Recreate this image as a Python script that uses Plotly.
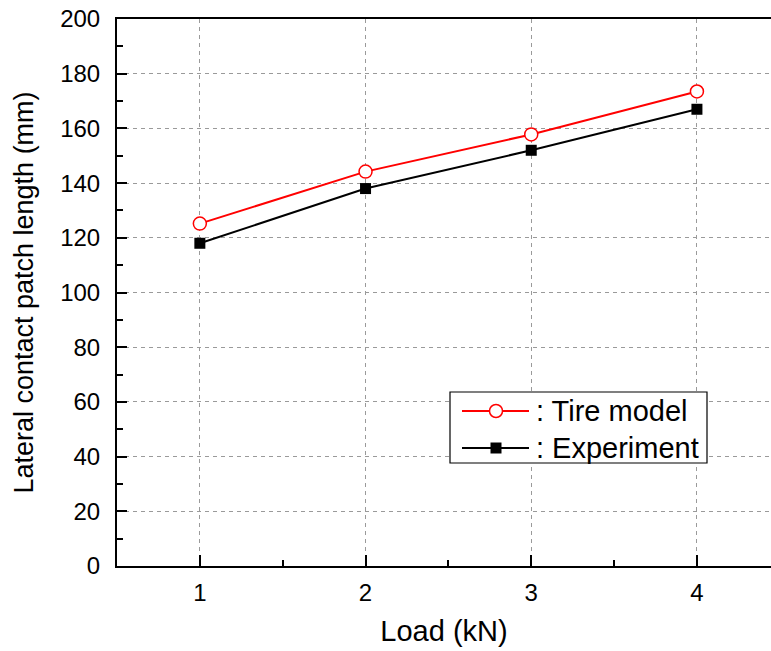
import plotly.graph_objects as go

# Load cases (kN) and lateral contact patch length (mm)
load_kn = [1, 2, 3, 4]
tire_model_mm = [125.2, 144.2, 157.8, 173.5]
experiment_mm = [118.0, 138.0, 152.0, 167.0]

series_names = [": Tire model", ": Experiment"]

FONT = "Liberation Sans, Arial, sans-serif"

W, H = 771, 651
L, R, T, B = 117, 0, 19, 85
plot_w = W - L - R
plot_h = H - T - B


def px_x(px):
    return (px - L) / plot_w


def px_y(py):
    return (H - B - py) / plot_h


fig = go.Figure()

fig.add_trace(go.Scatter(
    x=load_kn, y=experiment_mm, mode="lines+markers", name=series_names[1],
    line=dict(color="black", width=2),
    marker=dict(symbol="square", size=11, color="black"),
    showlegend=False,
))
fig.add_trace(go.Scatter(
    x=load_kn, y=tire_model_mm, mode="lines+markers", name=series_names[0],
    line=dict(color="#ff0000", width=2),
    marker=dict(symbol="circle", size=13, color="white",
                line=dict(color="#ff0000", width=1.5)),
    showlegend=False,
))

axis_common = dict(
    showline=True, linecolor="black", linewidth=2,
    ticks="inside", tickcolor="black", tickwidth=2,
    showgrid=True, gridcolor="#9a9a9a", gridwidth=1, griddash="4px,4px",
    zeroline=False,
    tickfont=dict(family=FONT, size=24, color="black"),
)

fig.update_xaxes(
    **axis_common,
    range=[0.5, 4.447], tick0=1, dtick=1, ticklen=11,
    mirror=True,
    minor=dict(ticks="inside", dtick=0.5, tick0=0.5, ticklen=6,
               tickcolor="black", tickwidth=2, showgrid=False),
    ticklabelstandoff=4,
    title=dict(text="Load (kN)", font=dict(family=FONT, size=29, color="black"),
               standoff=16),
)
fig.update_yaxes(
    **axis_common,
    range=[0, 200], tick0=0, dtick=20, ticklen=10,
    mirror=False,
    minor=dict(ticks="inside", dtick=10, tick0=0, ticklen=6,
               tickcolor="black", tickwidth=2, showgrid=False),
    ticklabelstandoff=10,
    title=dict(text="Lateral contact patch length (mm)",
               font=dict(family=FONT, size=27, color="black"), standoff=19),
)

# Legend box drawn inside the plot area
shapes = [
    dict(type="rect", xref="paper", yref="paper",
         x0=px_x(450), x1=px_x(707), y0=px_y(463), y1=px_y(392),
         line=dict(color="black", width=1.2), fillcolor="white", layer="above"),
]
annotations = []
rows = [
    (411, "#ff0000", "circle", series_names[0]),
    (448, "black", "square", series_names[1]),
]
for py, color, sym, label in rows:
    yp = px_y(py)
    shapes.append(dict(type="line", xref="paper", yref="paper",
                       x0=px_x(462), x1=px_x(529), y0=yp, y1=yp,
                       line=dict(color=color, width=2), layer="above"))
    if sym == "circle":
        shapes.append(dict(type="circle", xref="paper", yref="paper",
                           xsizemode="pixel", ysizemode="pixel",
                           xanchor=px_x(496), yanchor=yp,
                           x0=-6.5, x1=6.5, y0=-6.5, y1=6.5,
                           line=dict(color=color, width=1.5),
                           fillcolor="white", layer="above"))
    else:
        shapes.append(dict(type="rect", xref="paper", yref="paper",
                           xsizemode="pixel", ysizemode="pixel",
                           xanchor=px_x(496), yanchor=yp,
                           x0=-5.5, x1=5.5, y0=-5.5, y1=5.5,
                           line=dict(color=color, width=0),
                           fillcolor=color, layer="above"))
    annotations.append(dict(xref="paper", yref="paper", x=px_x(534), y=yp,
                            xanchor="left", yanchor="middle", showarrow=False,
                            text=label,
                            font=dict(family=FONT, size=29, color="black")))

fig.update_layout(
    width=W, height=H,
    margin=dict(l=L, r=R, t=T, b=B, autoexpand=False),
    paper_bgcolor="white", plot_bgcolor="white",
    showlegend=False,
    shapes=shapes, annotations=annotations,
)

fig.write_html("out.html", include_plotlyjs=True)
